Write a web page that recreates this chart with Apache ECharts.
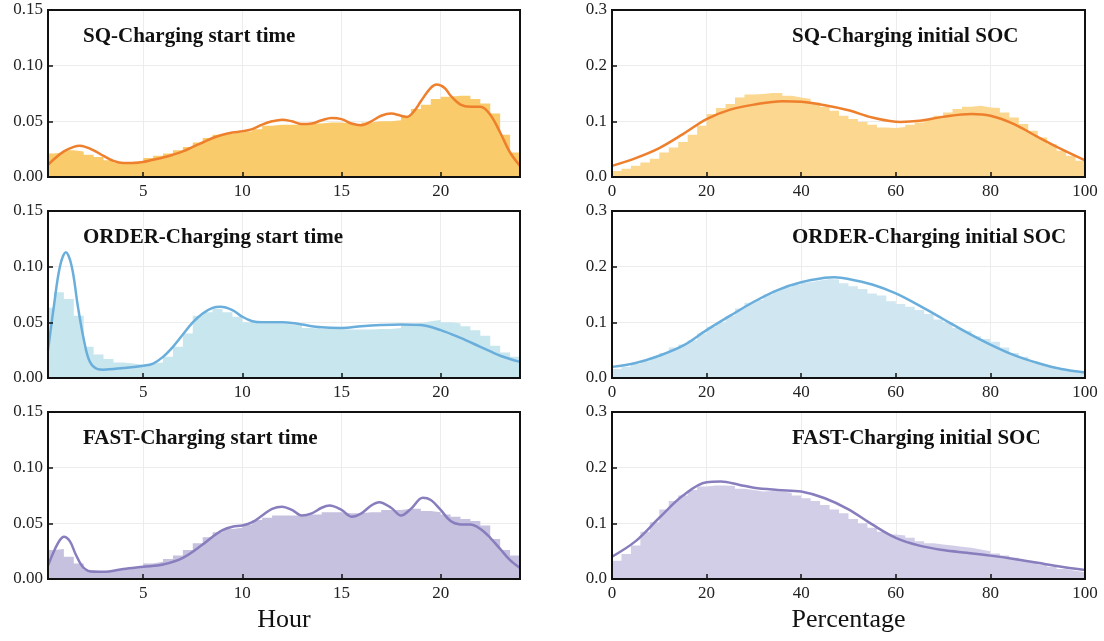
<!DOCTYPE html>
<html>
<head>
<meta charset="utf-8">
<script src="https://cdn.jsdelivr.net/npm/echarts@6/dist/echarts.min.js"></script>
<style>
	html, body {margin:0; padding:0; background:#fff;}
	#chart {width:1104px; height:641px;}
</style>
</head>
<body>
<div id="chart"></div>
<script>
// histogram heights, hour bins of 0.5 h starting at 0
var sqHourHist = [0.021,0.022,0.024,0.023,0.020,0.018,0.015,0.013,0.012,0.014,
	0.017,0.019,0.021,0.024,0.027,0.031,0.035,0.038,0.039,0.040,
	0.041,0.043,0.046,0.047,0.047,0.047,0.048,0.048,0.049,0.049,
	0.048,0.047,0.049,0.050,0.050,0.051,0.055,0.061,0.065,0.070,
	0.072,0.073,0.073,0.070,0.066,0.057,0.038,0.022];
var orderHourHist = [0.063,0.077,0.071,0.056,0.028,0.021,0.017,0.014,0.013,0.012,
	0.013,0.014,0.019,0.028,0.040,0.056,0.059,0.062,0.059,0.055,
	0.050,0.049,0.049,0.049,0.048,0.047,0.045,0.044,0.044,0.044,
	0.0435,0.0435,0.0435,0.044,0.044,0.045,0.048,0.0495,0.051,0.052,
	0.050,0.049,0.0465,0.043,0.038,0.029,0.023,0.019];
var fastHourHist = [0.026,0.027,0.020,0.014,0.008,0.0065,0.0074,0.009,0.010,0.0115,
	0.014,0.0155,0.018,0.021,0.026,0.032,0.0375,0.042,0.045,0.046,
	0.049,0.053,0.055,0.057,0.057,0.057,0.058,0.058,0.060,0.060,
	0.059,0.059,0.060,0.060,0.062,0.062,0.063,0.063,0.061,0.060,
	0.058,0.056,0.054,0.052,0.048,0.036,0.026,0.021];
// histogram heights, SOC bins of 2 % starting at 0
var sqSocHist = [0.011,0.015,0.020,0.026,0.033,0.044,0.053,0.063,0.076,0.092,
	0.113,0.124,0.131,0.143,0.148,0.149,0.151,0.151,0.146,0.143,
	0.140,0.134,0.126,0.119,0.110,0.104,0.099,0.094,0.089,0.088,
	0.090,0.094,0.098,0.104,0.110,0.116,0.122,0.126,0.128,0.125,
	0.124,0.116,0.107,0.095,0.083,0.071,0.059,0.047,0.038,0.029];
var orderSocHist = [0.016,0.020,0.025,0.030,0.037,0.045,0.055,0.060,0.068,0.080,
	0.092,0.100,0.112,0.125,0.135,0.140,0.150,0.158,0.163,0.168,
	0.172,0.175,0.178,0.177,0.170,0.165,0.160,0.152,0.148,0.138,
	0.133,0.128,0.122,0.115,0.105,0.100,0.090,0.085,0.075,0.070,
	0.065,0.055,0.045,0.038,0.030,0.025,0.020,0.015,0.012,0.010];
var fastSocHist = [0.033,0.045,0.060,0.085,0.102,0.125,0.140,0.150,0.160,0.166,
	0.168,0.168,0.167,0.162,0.160,0.157,0.158,0.157,0.155,0.150,
	0.145,0.140,0.133,0.125,0.118,0.108,0.100,0.092,0.085,0.080,
	0.078,0.074,0.068,0.064,0.062,0.060,0.058,0.056,0.053,0.050,
	0.046,0.042,0.038,0.034,0.030,0.026,0.022,0.018,0.015,0.012];

// density curves [x, y]
var sqHourKde = [[0.2,0.011],[0.5,0.016],[1,0.023],[1.5,0.027],[1.8,0.028],[2,0.0275],[2.5,0.024],[3,0.019],
	[3.5,0.0145],[4,0.0125],[4.5,0.0125],[5,0.0135],[5.5,0.0155],[6,0.0175],[6.5,0.020],[7,0.023],[7.5,0.027],
	[8,0.031],[8.5,0.035],[9,0.038],[9.5,0.040],[10,0.041],[10.5,0.043],[11,0.047],[11.5,0.050],[12,0.0515],
	[12.5,0.050],[13,0.0475],[13.5,0.048],[14,0.051],[14.5,0.053],[15,0.052],[15.5,0.048],[16,0.0465],[16.5,0.050],
	[17,0.055],[17.5,0.057],[18,0.055],[18.3,0.054],[18.7,0.060],[19,0.068],[19.5,0.080],[19.8,0.083],[20.2,0.080],
	[20.5,0.073],[21,0.065],[21.5,0.063],[22,0.063],[22.5,0.056],[23,0.040],[23.5,0.022],[24,0.010]];
var orderHourKde = [[0.2,0.025],[0.5,0.065],[0.8,0.100],[1.1,0.113],[1.4,0.100],[1.7,0.065],[2,0.035],[2.3,0.015],
	[2.7,0.008],[3,0.0075],[4,0.009],[5,0.011],[5.5,0.013],[6,0.019],[6.5,0.028],[7,0.039],[7.5,0.050],[8,0.058],
	[8.5,0.063],[8.9,0.064],[9.5,0.061],[10,0.055],[10.5,0.051],[11,0.050],[12,0.050],[12.5,0.0495],[13,0.048],
	[14,0.0455],[15,0.045],[16,0.0465],[17,0.0475],[18,0.048],[19,0.0475],[20,0.043],[21,0.036],[22,0.028],
	[23,0.020],[24,0.0145]];
var fastHourKde = [[0.2,0.012],[0.5,0.025],[0.8,0.035],[1,0.038],[1.3,0.034],[1.6,0.022],[2,0.010],[2.5,0.0065],
	[3,0.0065],[4,0.009],[5,0.011],[6,0.013],[7,0.019],[8,0.031],[8.5,0.038],[9,0.044],[9.5,0.047],[10,0.048],
	[10.5,0.051],[11,0.057],[11.5,0.063],[12,0.065],[12.5,0.062],[13,0.057],[13.5,0.059],[14,0.064],[14.4,0.066],
	[15,0.062],[15.5,0.056],[16,0.059],[16.5,0.066],[16.9,0.069],[17.5,0.064],[18,0.057],[18.5,0.063],[19.1,0.073],
	[19.5,0.071],[20,0.062],[20.5,0.052],[21,0.049],[21.5,0.049],[22,0.045],[22.5,0.037],[23,0.027],[23.5,0.017],
	[24,0.010]];
var sqSocKde = [[0,0.020],[5,0.034],[10,0.052],[15,0.077],[20,0.104],[25,0.121],[30,0.130],[36,0.136],[40,0.135],
	[45,0.129],[50,0.120],[55,0.107],[61,0.099],[65,0.101],[70,0.108],[76,0.113],[80,0.110],[85,0.095],[90,0.072],
	[95,0.050],[100,0.030]];
var orderSocKde = [[0,0.020],[5,0.027],[10,0.040],[15,0.058],[20,0.086],[25,0.112],[30,0.137],[35,0.158],[40,0.172],
	[45,0.180],[47,0.181],[50,0.178],[55,0.168],[60,0.152],[65,0.130],[70,0.106],[75,0.082],[80,0.060],[85,0.041],
	[90,0.027],[95,0.016],[100,0.010]];
var fastSocKde = [[0,0.040],[5,0.068],[10,0.110],[15,0.150],[20,0.174],[23,0.175],[27,0.169],[30,0.164],[35,0.160],
	[40,0.157],[45,0.145],[50,0.125],[55,0.098],[60,0.074],[65,0.060],[70,0.052],[75,0.047],[80,0.042],[85,0.036],
	[90,0.029],[95,0.022],[100,0.016]];

var titles = ['SQ-Charging start time','SQ-Charging initial SOC','ORDER-Charging start time',
	'ORDER-Charging initial SOC','FAST-Charging start time','FAST-Charging initial SOC'];

var chart = echarts.init(document.getElementById('chart'));
var font = "'Liberation Serif', 'Times New Roman', serif";

// step points for a histogram: left edge of every bin, then the right edge
var stepData = function (hist, start, width) {
	var pts = [];
	for (var i = 0; i < hist.length; i++) {
		pts.push([start + i * width, hist[i]]);
	}
	pts.push([start + hist.length * width, hist[hist.length - 1]]);
	return pts;
};

var panels = [
	{hist:stepData(sqHourHist,0,0.5), kde:sqHourKde, bar:'#f9cb6a', line:'#ee7f2d'},
	{hist:stepData(sqSocHist,0,2), kde:sqSocKde, bar:'#fbd78f', line:'#ee7f2d'},
	{hist:stepData(orderHourHist,0,0.5), kde:orderHourKde, bar:'#c8e6ee', line:'#6aaedc'},
	{hist:stepData(orderSocHist,0,2), kde:orderSocKde, bar:'#d0e7f1', line:'#6aaedc'},
	{hist:stepData(fastHourHist,0,0.5), kde:fastHourKde, bar:'#c6c1df', line:'#887dbd'},
	{hist:stepData(fastSocHist,0,2), kde:fastSocKde, bar:'#d2cee7', line:'#887dbd'}
];

var tickStyle = {show: true, inside: true, length: 5, lineStyle: {color: '#111', width: 1.5}};
var grids = [], xAxes = [], yAxes = [], titleList = [], series = [];
var tops = [10, 211, 412];
panels.forEach(function (p, i) {
	var row = Math.floor(i / 2), col = i % 2;
	grids.push({
		left: col === 0 ? 48 : 612,
		top: tops[row],
		width: col === 0 ? 472 : 473,
		height: 167,
		show: true,
		z: 10,
		borderColor: '#111',
		borderWidth: 2,
		backgroundColor: 'transparent'
	});
	var xRange = col === 0 ? {min: 0.2, max: 24, splitNumber: 5} : {min: 0, max: 100, interval: 20};
	var yRange = col === 0 ? {min: 0, max: 0.15, interval: 0.05} : {min: 0, max: 0.3, interval: 0.1};
	// main axes: labels and grid lines, below the series
	var xa = Object.assign({
		type: 'value',
		gridIndex: i,
		position: 'bottom',
		axisLine: {show: false},
		axisTick: {show: false},
		axisLabel: {color: '#222', fontFamily: font, fontSize: 17, margin: 6,
			showMinLabel: col !== 0, showMaxLabel: col !== 0},
		splitLine: {show: true, lineStyle: {color: '#ececec', width: 1}}
	}, xRange);
	if (row === 2) {
		xa.name = col === 0 ? 'Hour' : 'Percentage';
		xa.nameLocation = 'middle';
		xa.nameGap = 28;
		xa.nameTextStyle = {color: '#111', fontFamily: font, fontSize: 26};
	}
	xAxes.push(xa);
	// tick-only axes drawn over the series
	xAxes.push(Object.assign({
		type: 'value', gridIndex: i, position: 'bottom', z: 10,
		axisLine: {show: false}, axisTick: tickStyle,
		axisLabel: {show: false}, splitLine: {show: false}
	}, xRange));
	yAxes.push(Object.assign({
		type: 'value',
		gridIndex: i,
		position: 'left',
		axisLine: {show: false},
		axisTick: {show: false},
		axisLabel: {
			color: '#222', fontFamily: font, fontSize: 17, margin: 5,
			formatter: function (v) { return v.toFixed(col === 0 ? 2 : 1); }
		},
		splitLine: {show: true, lineStyle: {color: '#ececec', width: 1}}
	}, yRange));
	yAxes.push(Object.assign({
		type: 'value', gridIndex: i, position: 'left', z: 10,
		axisLine: {show: false}, axisTick: tickStyle,
		axisLabel: {show: false}, splitLine: {show: false}
	}, yRange));
	titleList.push({
		text: titles[i],
		left: col === 0 ? 83 : 792,
		top: tops[row] + 16,
		padding: 0,
		textStyle: {color: '#111', fontFamily: font, fontSize: 21, fontWeight: 'bold'}
	});
	series.push({
		type: 'line',
		xAxisIndex: 2 * i,
		yAxisIndex: 2 * i,
		step: 'end',
		symbol: 'none',
		silent: true,
		lineStyle: {width: 0, opacity: 0},
		areaStyle: {color: p.bar, opacity: 1},
		data: p.hist,
		z: 2
	});
	series.push({
		type: 'line',
		xAxisIndex: 2 * i,
		yAxisIndex: 2 * i,
		smooth: 0.35,
		symbol: 'none',
		silent: true,
		lineStyle: {color: p.line, width: 2.5},
		data: p.kde,
		z: 3
	});
});

var option = {
	animation: false,
	backgroundColor: '#fff',
	title: titleList,
	grid: grids,
	xAxis: xAxes,
	yAxis: yAxes,
	series: series
};
chart.setOption(option);
</script>
</body>
</html>
